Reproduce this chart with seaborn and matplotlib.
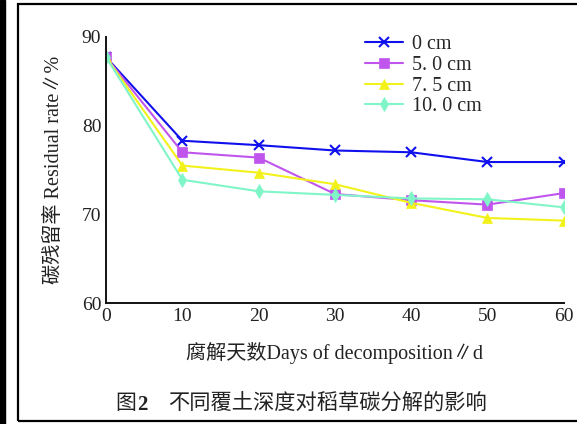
import matplotlib
matplotlib.use("Agg")
import matplotlib.pyplot as plt
import matplotlib.patches as mpatches
import pandas as pd
import seaborn as sns

# carbon residual rate of rice straw under different soil cover depths

days = [0, 10, 20, 30, 40, 50, 60]
depths = ["0 cm", "5. 0 cm", "7. 5 cm", "10. 0 cm"]
rate_0 = [87.7, 78.3, 77.8, 77.2, 77.0, 75.9, 75.9]
rate_5 = [87.7, 77.0, 76.4, 72.3, 71.6, 71.1, 72.4]
rate_75 = [87.7, 75.5, 74.7, 73.4, 71.3, 69.6, 69.3]
rate_10 = [87.7, 73.9, 72.6, 72.2, 71.8, 71.7, 70.8]

series = [rate_0, rate_5, rate_75, rate_10]
colors = ["#1010ee", "#c055ee", "#f2f21a", "#80f5c8"]
markers = ["x", "s", "^", "d"]

sns.set_style("white")
plt.rcParams['font.family'] = ['Liberation Serif', 'Noto Sans CJK SC']

fig = plt.figure(figsize=(5.77, 4.24), dpi=100)
ax = fig.add_axes([0.184, 0.285, 0.793, 0.628])

for name, vals, c, m in zip(depths, series, colors, markers):
    df = pd.DataFrame({"day": days, "rate": vals})
    sns.lineplot(data=df, x="day", y="rate", color=c, marker=m, linewidth=1.5,
                 markersize=7.5, markeredgewidth=1.5 if m == "x" else 0.5,
                 markeredgecolor=c, label=name, ax=ax)

ax.set_xlim(0, 60)
ax.set_ylim(60, 90)
ax.set_xticks(days)
ax.set_yticks([60, 70, 80, 90])
ax.tick_params(direction='in', length=4, width=1.2, labelsize=14, colors='#222222')
for s in ['top', 'right']:
    ax.spines[s].set_visible(False)
for s in ['left', 'bottom']:
    ax.spines[s].set_color('#111111')
    ax.spines[s].set_linewidth(1.4)
ax.set_facecolor('none')

ax.set_xlabel("腐解天数Days of decomposition∥d", fontsize=14.5, labelpad=12, color='#222222')
ax.set_ylabel("碳残留率 Residual rate∥%", fontsize=14.5, labelpad=13, color='#222222')

ax.legend(loc='upper left', bbox_to_anchor=(0.526, 1.074), frameon=False,
          fontsize=14.5, handlelength=1.9, labelspacing=0.075, handletextpad=0.45)

# caption
fig.text(0.199, 0.045, "图", fontsize=15, ha='left', va='center', color='#222222')
fig.text(0.237, 0.045, "2", fontsize=15, ha='left', va='center', weight='bold', color='#222222')
fig.text(0.291, 0.045, "不同覆土深度对稻草碳分解的影响", fontsize=15.3, ha='left', va='center', color='#222222')

# page frame
fig.patches.append(mpatches.Rectangle((0, 0), 0.009, 1, transform=fig.transFigure,
                                      color='black', zorder=5))
fig.patches.append(mpatches.Rectangle((0.031, 0.006), 1.0, 0.984, transform=fig.transFigure,
                                      fill=False, edgecolor='black', linewidth=1.6, zorder=5))

plt.savefig("out.png", dpi=100)
